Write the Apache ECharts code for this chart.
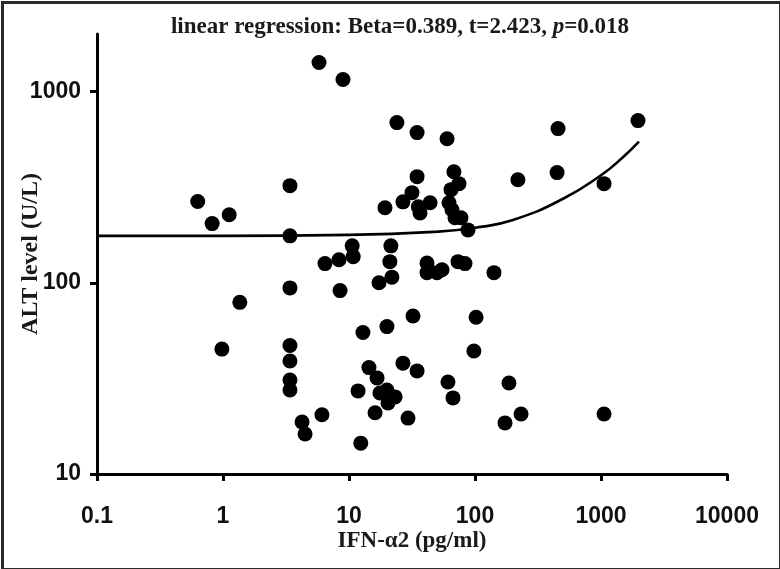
<!DOCTYPE html>
<html>
<head>
<meta charset="utf-8">
<script src="https://cdn.jsdelivr.net/npm/echarts@6/dist/echarts.min.js"></script>
<style>
html,body{margin:0;padding:0;background:#fff;}
#chart{width:780px;height:569px;}
</style>
</head>
<body>
<div id="chart"></div>
<script>
// IFN-α2 (pg/ml) vs ALT level (U/L)
const ifnValues = [0.63,0.82,1.12,1.36,0.98,3.4,3.4,3.4,3.4,3.4,3.4,3.4,4.24,4.48,6.1,5.78,8.96,24.0,34.7,60,456,1966,34.7,68,74.6,64.5,19.3,26.8,31.6,36.6,35.5,44,62.2,65.7,69.4,77.4,88,219,448,1057,21.5,21.1,21.9,17.3,41.6,41.6,49.9,54.7,73.3,83.3,141.5,10.6,10.8,8.33,6.45,8.49,32.2,20.0,12.9,102,98,14.4,26.8,34.7,16.7,11.8,17.6,20.0,23.2,20.4,61,66.9,16.1,29.4,12.4,186,232,173,1057];
const altValues = [266,204,227,79,45,322,176,94,47,39,31,27.5,18.7,16.2,20.4,1419,1156,688,610,567,640,705,359,381,330,307,247,265,296,232,250,262,262,241,219,219,189,346,377,330,156,129,107,100,127,113,113,117,129,126,113,156,137,132,126,91,67,59,55,66,44,36,38,34.6,31.8,27.2,26.5,27.5,25.3,23.5,30.3,25.0,20.9,19.6,14.5,29.9,20.6,18.5,20.6];
// regression curve
const fitX = [0.1,1,10,50,100,200,500,1000,1500,2000];
const fitY = [176,176,178,185,194,213,275,365,455,547];
const xTicks = [0.1,1,10,100,1000,10000];
const yTicks = [10,100,1000];

const points = ifnValues.map((x,i)=>[x, altValues[i]]);
const fitLine = fitX.map((x,i)=>[x, fitY[i]]);

const chart = echarts.init(document.getElementById('chart'));
const axisStyle = {lineStyle:{color:'#000',width:3}};
const serifBold = {fontFamily:'Liberation Serif',fontWeight:'bold',color:'#1a1a1a'};
chart.setOption({
  animation:false,
  backgroundColor:'#fff',
  title:{
    text:'{b|linear regression: Beta=0.389, t=2.423, }{i|p}{b|=0.018}',
    left:395, top:11, textAlign:'center',
    textStyle:{rich:{
      b:Object.assign({fontSize:23},serifBold),
      i:Object.assign({fontSize:23,fontStyle:'italic'},serifBold)
    }}
  },
  grid:{left:97,right:53,top:34,bottom:95,containLabel:false,outerBoundsMode:'none'},
  xAxis:{
    type:'log', logBase:10, min:0.1, max:10000,
    name:'IFN-α2 (pg/ml)', nameLocation:'middle', nameGap:56, nameMoveOverlap:false,
    nameTextStyle:Object.assign({fontSize:23},serifBold),
    axisLine:axisStyle,
    axisTick:{show:true,length:7,lineStyle:{color:'#000',width:3},customValues:xTicks},
    axisLabel:{customValues:xTicks,margin:31,fontFamily:'Liberation Sans',fontWeight:'bold',fontSize:23,color:'#111',
      formatter:v=>String(v)},
    splitLine:{show:false}, minorTick:{show:false}
  },
  yAxis:{
    type:'log', logBase:10, min:10, max:2000,
    name:'ALT level (U/L)', nameLocation:'middle', nameGap:54, nameRotate:90, nameMoveOverlap:false,
    nameTextStyle:Object.assign({fontSize:24},serifBold),
    axisLine:axisStyle,
    axisTick:{show:true,length:7,lineStyle:{color:'#000',width:3},customValues:yTicks},
    axisLabel:{customValues:yTicks,margin:16,fontFamily:'Liberation Sans',fontWeight:'bold',fontSize:23,color:'#111',
      formatter:v=>String(v)},
    splitLine:{show:false}
  },
  series:[
    {type:'line',data:fitLine,smooth:true,showSymbol:false,symbol:'none',
      lineStyle:{color:'#000',width:2.6},z:2},
    {type:'scatter',data:points,symbol:'circle',symbolSize:15,
      itemStyle:{color:'#000',opacity:1},z:3}
  ],
  graphic:[{type:'rect',left:0,top:0,shape:{x:1,y:1,width:778,height:567},
    style:{fill:'none',stroke:'#2a2a2a',lineWidth:3},silent:true,z:100}]
});
</script>
</body>
</html>
